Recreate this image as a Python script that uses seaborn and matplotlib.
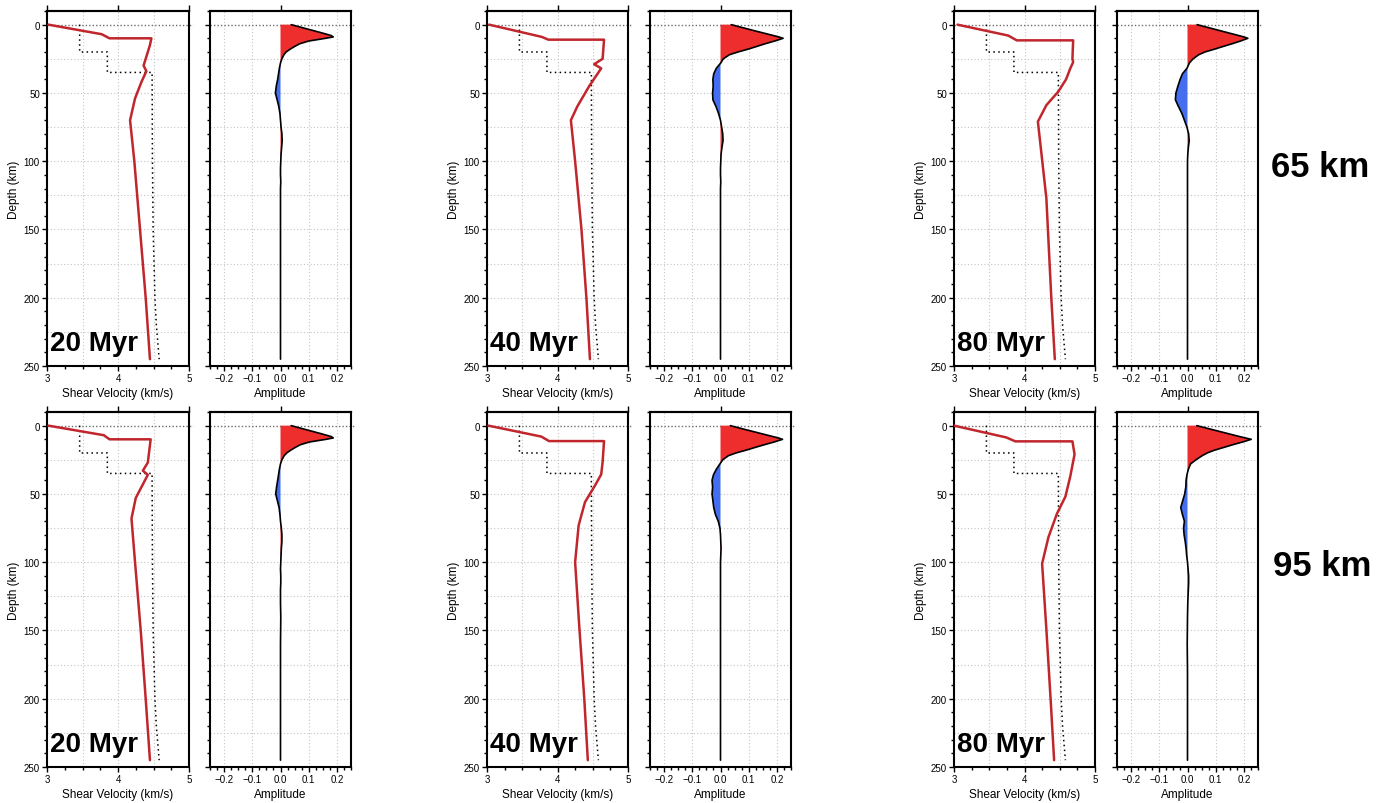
import numpy as np
import pandas as pd
import matplotlib
matplotlib.use('Agg')
import matplotlib.pyplot as plt
import seaborn as sns
from matplotlib.ticker import MultipleLocator, NullFormatter

# ---------------- data ----------------
ages = ["20 Myr", "40 Myr", "80 Myr"]
thickness_labels = ["65 km", "95 km"]

# reference model (dotted)
ref_depth = [0, 20, 20, 35, 35, 100, 150, 200, 220, 245]
ref_vs = [3.46, 3.46, 3.85, 3.85, 4.48, 4.485, 4.495, 4.52, 4.54, 4.58]

# shear velocity profiles (red)
vel_20_65_depth = [0, 7, 10, 10, 15, 30, 34, 42, 54, 70, 100, 150, 200, 245]
vel_20_65_vs = [3.02, 3.77, 3.88, 4.47, 4.45, 4.36, 4.40, 4.33, 4.24, 4.17, 4.23, 4.31, 4.39, 4.45]
vel_40_65_depth = [0, 9, 11, 11, 25, 29, 32, 45, 60, 70, 100, 150, 200, 245]
vel_40_65_vs = [3.03, 3.78, 3.87, 4.66, 4.64, 4.52, 4.62, 4.45, 4.28, 4.19, 4.25, 4.34, 4.41, 4.46]
vel_80_65_depth = [0, 8, 11.5, 11.5, 25, 27.5, 32, 40, 49, 59, 71, 127, 200, 245]
vel_80_65_vs = [3.05, 3.77, 3.89, 4.69, 4.68, 4.69, 4.65, 4.59, 4.48, 4.31, 4.19, 4.31, 4.38, 4.43]
vel_20_95_depth = [0, 7, 10, 10, 27, 33, 36, 53, 68, 100, 150, 200, 245]
vel_20_95_vs = [3.02, 3.80, 3.88, 4.46, 4.42, 4.35, 4.42, 4.25, 4.19, 4.24, 4.32, 4.39, 4.45]
vel_40_95_depth = [0, 8, 11.3, 11.3, 26.6, 35.7, 44, 56, 73, 100, 148, 200, 245]
vel_40_95_vs = [3.02, 3.77, 3.88, 4.66, 4.64, 4.62, 4.53, 4.39, 4.30, 4.25, 4.31, 4.38, 4.43]
vel_80_95_depth = [0, 8.6, 11.5, 11.5, 21, 37, 52, 64.5, 81.6, 101, 149, 200, 245]
vel_80_95_vs = [3.00, 3.74, 3.87, 4.68, 4.71, 4.65, 4.58, 4.46, 4.34, 4.25, 4.31, 4.37, 4.42]

# amplitude traces
amp_depth = [0, 2, 4, 6, 8, 9, 10, 12, 14, 16, 18, 20, 22, 25, 28, 32, 36, 40, 45, 50,
             55, 60, 65, 70, 75, 80, 85, 90, 95, 100, 105, 110, 115, 120, 130, 140, 160,
             180, 200, 220, 245]
amp_20_65 = [0.038, 0.074, 0.110, 0.146, 0.180, 0.187, 0.160, 0.100, 0.068, 0.050,
             0.034, 0.020, 0.012, 0.005, 0.000, -0.004, -0.007, -0.010, -0.015, -0.018,
             -0.012, -0.006, -0.002, 0.000, 0.002, 0.005, 0.006, 0.004, 0.002, 0.001,
             0.000, 0.000, 0.001, 0.000, 0.000, 0.000, 0.000, 0.000, 0.000, 0.000, 0.000]
amp_40_65 = [0.038, 0.075, 0.112, 0.150, 0.188, 0.207, 0.222, 0.192, 0.158, 0.128,
             0.097, 0.062, 0.032, 0.010, 0.001, -0.015, -0.024, -0.027, -0.026, -0.028,
             -0.027, -0.016, -0.007, 0.000, 0.004, 0.008, 0.009, 0.005, 0.002, 0.001,
             0.000, 0.000, 0.001, 0.000, 0.000, 0.000, 0.000, 0.000, 0.000, 0.000, 0.000]
amp_80_65 = [0.034, 0.071, 0.108, 0.145, 0.182, 0.200, 0.214, 0.188, 0.158, 0.126,
             0.095, 0.062, 0.040, 0.020, 0.007, -0.002, -0.018, -0.026, -0.034, -0.041,
             -0.043, -0.032, -0.020, -0.011, -0.002, 0.004, 0.006, 0.003, 0.001, 0.000,
             0.000, 0.000, 0.000, 0.000, 0.000, 0.000, 0.000, 0.000, 0.000, 0.000, 0.000]
amp_20_95 = [0.038, 0.074, 0.110, 0.146, 0.180, 0.187, 0.162, 0.102, 0.070, 0.052,
             0.036, 0.022, 0.013, 0.005, 0.000, -0.004, -0.007, -0.010, -0.014, -0.017,
             -0.011, -0.005, -0.002, 0.000, 0.003, 0.005, 0.005, 0.003, 0.002, 0.001,
             0.000, 0.001, 0.001, 0.000, 0.000, 0.001, 0.000, 0.000, 0.000, 0.000, 0.000]
amp_40_95 = [0.035, 0.072, 0.110, 0.148, 0.186, 0.205, 0.220, 0.190, 0.155, 0.122,
             0.090, 0.055, 0.028, 0.008, -0.002, -0.015, -0.025, -0.030, -0.028, -0.030,
             -0.027, -0.024, -0.018, -0.008, -0.002, 0.000, 0.001, 0.002, 0.001, 0.000,
             0.000, 0.000, 0.000, 0.000, 0.000, 0.000, 0.000, 0.000, 0.000, 0.000, 0.000]
amp_80_95 = [0.033, 0.071, 0.109, 0.147, 0.185, 0.205, 0.226, 0.195, 0.160, 0.128,
             0.095, 0.070, 0.052, 0.030, 0.011, 0.003, -0.002, -0.005, -0.006, -0.010,
             -0.017, -0.024, -0.018, -0.011, -0.014, -0.012, -0.008, -0.005, -0.003, 0.000,
             0.002, 0.004, 0.004, 0.003, 0.001, 0.000, -0.001, 0.000, 0.000, 0.000, 0.000]

vel_profiles = [
    [(vel_20_65_depth, vel_20_65_vs), (vel_40_65_depth, vel_40_65_vs), (vel_80_65_depth, vel_80_65_vs)],
    [(vel_20_95_depth, vel_20_95_vs), (vel_40_95_depth, vel_40_95_vs), (vel_80_95_depth, vel_80_95_vs)],
]
amp_traces = [[amp_20_65, amp_40_65, amp_80_65], [amp_20_95, amp_40_95, amp_80_95]]

# ---------------- style ----------------
sns.set_theme(style='ticks')
plt.rcParams['font.family'] = ['Liberation Sans', 'DejaVu Sans']
plt.rcParams['axes.linewidth'] = 1.5
plt.rcParams['axes.edgecolor'] = 'black'
plt.rcParams['text.color'] = 'black'
plt.rcParams['axes.labelcolor'] = 'black'
plt.rcParams['xtick.color'] = 'black'
plt.rcParams['ytick.color'] = 'black'

RED_LINE = '#c0262c'
RED_FILL = '#ee2d2d'
BLUE_FILL = '#436ef0'
GRID_KW = dict(color='#c4c4c4', lw=0.8, ls=(0, (1, 2)), zorder=0)

W, H = 1390, 804
fig = plt.figure(figsize=(W / 100, H / 100), dpi=100)

col_px = [(47, 189, 210, 351), (487, 628, 650, 791), (954, 1095, 1117, 1258)]
row_px = [(12, 367), (413, 768)]


def rect(x0, x1, yt, yb):
    return [x0 / W, 1 - yb / H, (x1 - x0) / W, (yb - yt) / H]


def style_common(ax):
    ax.set_ylim(250, -10)
    ax.yaxis.set_major_locator(MultipleLocator(50))
    ax.yaxis.set_minor_locator(MultipleLocator(10))
    ax.tick_params(which='major', direction='out', length=3.6, width=1.0,
                   labelsize=7, pad=1.5, colors='black')
    ax.tick_params(which='minor', direction='out', length=2.0, width=1.0)
    ax.tick_params(axis='x', which='both', top=False)
    ax.tick_params(axis='y', which='both', right=False)
    for s in ax.spines.values():
        s.set_visible(True)
        s.set_linewidth(1.5)
        s.set_color('black')
    for d in np.arange(25, 250, 25):
        ax.axhline(d, **GRID_KW)
    ax.plot([0, 1.025], [0, 0], transform=ax.get_yaxis_transform(), color='#6e6e6e',
            lw=1.0, ls=(0, (1, 1.5)), clip_on=False, zorder=1)


for r in range(2):
    yt, yb = row_px[r]
    for c in range(3):
        vx0, vx1, ax0, ax1 = col_px[c]
        # velocity axis
        axv = fig.add_axes(rect(vx0, vx1, yt, yb))
        style_common(axv)
        axv.set_xlim(3, 5)
        axv.xaxis.set_major_locator(MultipleLocator(1))
        axv.xaxis.set_minor_locator(MultipleLocator(0.25))
        for v in [3.5, 4.0, 4.5]:
            axv.axvline(v, **GRID_KW)
        sns.lineplot(x=ref_vs, y=ref_depth, sort=False, estimator=None, ax=axv,
                     color='black', lw=1.1, ls=(0, (1, 2.2)), legend=False, zorder=2)
        dep, vs = vel_profiles[r][c]
        sns.lineplot(x=vs, y=dep, sort=False, estimator=None, ax=axv,
                     color=RED_LINE, lw=1.8, legend=False, zorder=3)
        axv.set_ylim(250, -10)
        axv.set_xlim(3, 5)
        axv.set_xlabel('Shear Velocity (km/s)', fontsize=8.5, labelpad=3, color='black')
        axv.set_ylabel('Depth (km)', fontsize=8.5, labelpad=3, color='black')
        axv.text(0.022, 0.046, ages[c], transform=axv.transAxes, fontsize=20,
                 fontweight='bold', va='baseline', ha='left', zorder=5, color='black')
        secv = axv.secondary_xaxis('top')
        secv.set_xticks([3, 4, 5])
        secv.xaxis.set_major_formatter(NullFormatter())
        secv.tick_params(direction='out', length=4, width=1.0, colors='black')
        secv.spines['top'].set_linewidth(1.5)

        # amplitude axis
        axa = fig.add_axes(rect(ax0, ax1, yt, yb))
        style_common(axa)
        axa.set_xlim(-0.25, 0.25)
        axa.xaxis.set_major_locator(MultipleLocator(0.1))
        axa.xaxis.set_minor_locator(MultipleLocator(0.025))
        axa.yaxis.set_major_formatter(NullFormatter())
        for v in [-0.2, -0.1, 0.1, 0.2]:
            axa.axvline(v, **GRID_KW)
        amp = np.array(amp_traces[r][c])
        dep_a = np.array(amp_depth)
        axa.fill_betweenx(dep_a, 0, amp, where=amp >= 0, interpolate=True,
                          color=RED_FILL, lw=0, zorder=2)
        axa.fill_betweenx(dep_a, 0, amp, where=amp <= 0, interpolate=True,
                          color=BLUE_FILL, lw=0, zorder=2)
        sns.lineplot(x=amp, y=dep_a, sort=False, estimator=None, ax=axa,
                     color='black', lw=1.2, legend=False, zorder=3)
        axa.set_xlim(-0.25, 0.25)
        axa.set_ylim(250, -10)
        axa.set_xticklabels([f'{t:.1f}'.replace('-', '\u2212') for t in axa.get_xticks()])
        axa.set_xlim(-0.25, 0.25)
        axa.set_xlabel('Amplitude', fontsize=8.5, labelpad=3, color='black')
        axa.set_ylabel('')
        seca = axa.secondary_xaxis('top')
        seca.set_xticks([0])
        seca.xaxis.set_major_formatter(NullFormatter())
        seca.tick_params(direction='out', length=4, width=1.0, colors='black')
        seca.spines['top'].set_linewidth(1.5)

fig.text(1271 / W, 1 - 177 / H, thickness_labels[0], fontsize=25, fontweight='bold',
         ha='left', va='baseline', color='black')
fig.text(1273 / W, 1 - 576 / H, thickness_labels[1], fontsize=25, fontweight='bold',
         ha='left', va='baseline', color='black')

fig.savefig('out.png', dpi=100)
